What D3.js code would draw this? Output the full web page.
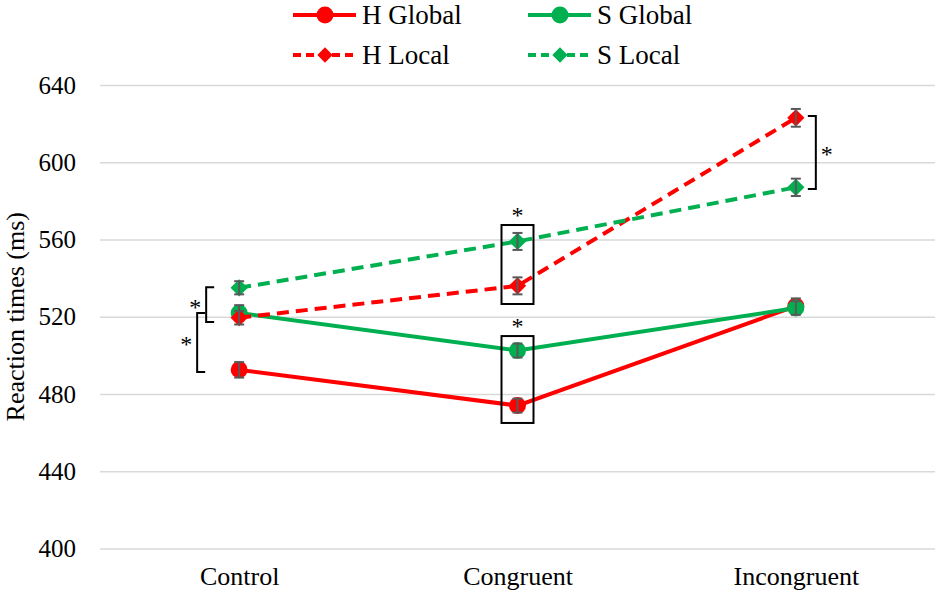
<!DOCTYPE html>
<html lang="en">
<head>
<meta charset="UTF-8">
<title>Reaction times</title>
<script src="https://cdn.jsdelivr.net/npm/d3@7"></script>
<style>
  body { margin: 0; background: #fff; }
  svg text { font-family: "Liberation Serif", "Times New Roman", Times, "DejaVu Serif", serif !important; fill: #000; }
</style>
</head>
<body>
<div id="chart"></div>
<script>
// data
const conditions = ["Control", "Congruent", "Incongruent"];
const yTicks = [400, 440, 480, 520, 560, 600, 640];

const hGlobal = [492.5, 474, 525.5];
const sGlobal = [522, 502.5, 524.5];
const hLocal = [519.5, 536, 623];
const sLocal = [535, 559, 587];

const hGlobalErr = [4, 3.6, 4];
const sGlobalErr = [4, 3.6, 3.5];
const hLocalErr = [3.5, 4.4, 4.6];
const sLocalErr = [3.4, 4.4, 4.5];

const seriesNames = ["H Global", "S Global", "H Local", "S Local"];

// significance marks (category index, from value, to value)
const brackets = [
    {cat: 0, top: 535.3, bottom: 517.3, side: "left", offset: 33},
    {cat: 0, top: 522, bottom: 491.4, side: "left", offset: 42},
    {cat: 2, top: 624, bottom: 586.2, side: "right", offset: 20}
];
const boxes = [
    {cat: 1, top: 567.5, bottom: 526.6},
    {cat: 1, top: 510, bottom: 465}
];

const red = "#FF0000", green = "#00B050";

const series = [
    {name: seriesNames[0], values: hGlobal, err: hGlobalErr, color: red, dash: null, shape: "circle"},
    {name: seriesNames[1], values: sGlobal, err: sGlobalErr, color: green, dash: null, shape: "circle"},
    {name: seriesNames[2], values: hLocal, err: hLocalErr, color: red, dash: "12,7", shape: "diamond"},
    {name: seriesNames[3], values: sLocal, err: sLocalErr, color: green, dash: "12,7", shape: "diamond"}
];

const W = 939, H = 599;
const plot = {left: 100, right: 935, top: 85, bottom: 548.5};

const svg = d3.select("#chart").append("svg")
    .attr("width", W)
    .attr("height", H);

const x = d3.scalePoint()
    .domain(conditions)
    .range([plot.left, plot.right])
    .padding(0.5);

const y = d3.scaleLinear()
    .domain([400, 640])
    .range([plot.bottom, plot.top]);

// gridlines + y labels
const yAxis = svg.append("g")
    .attr("transform", "translate(" + plot.left + ",0)")
    .call(d3.axisLeft(y).tickValues(yTicks).tickSize(-(plot.right - plot.left)).tickPadding(24));
yAxis.attr("font-family", null).attr("font-size", null);
yAxis.select(".domain").remove();
yAxis.selectAll(".tick line").attr("stroke", "#d9d9d9").attr("stroke-width", 1.3);
yAxis.selectAll(".tick text")
    .style("font-size", "25px")
    .attr("fill", "#000");

// x labels
const xAxis = svg.append("g")
    .attr("transform", "translate(0," + plot.bottom + ")")
    .call(d3.axisBottom(x).tickSize(0).tickPadding(18));
xAxis.attr("font-family", null).attr("font-size", null);
xAxis.select(".domain").remove();
xAxis.selectAll(".tick text")
    .style("font-size", "26px")
    .attr("fill", "#000");

// y axis title
svg.append("text")
    .attr("transform", "translate(24," + ((plot.top + plot.bottom) / 2) + ") rotate(-90)")
    .attr("text-anchor", "middle")
    .style("font-size", "26px")
    .text("Reaction times (ms)");

function drawMarker(g, shape, color, cx, cy, big) {
    if (shape == "circle") {
        g.append("circle")
            .attr("cx", cx).attr("cy", cy)
            .attr("r", 8.5)
            .attr("fill", color);
    } else {
        g.append("path")
            .attr("d", d3.symbol().type(d3.symbolDiamond2).size(big ? 190 : 150)())
            .attr("transform", "translate(" + cx + "," + cy + ")")
            .attr("fill", color);
    }
}

const line = d3.line()
    .x((d, i) => x(conditions[i]))
    .y(d => y(d));

series.forEach(function(s) {
    const g = svg.append("g");
    g.append("path")
        .datum(s.values)
        .attr("d", line)
        .attr("fill", "none")
        .attr("stroke", s.color)
        .attr("stroke-width", 4)
        .attr("stroke-dasharray", s.dash);

    s.values.forEach(function(v, i) {
        drawMarker(g, s.shape, s.color, x(conditions[i]), y(v), true);
    });

    // error bars
    s.values.forEach(function(v, i) {
        const cx = x(conditions[i]);
        const e = s.err[i];
        const eb = g.append("g").attr("stroke", "#595959").attr("stroke-width", 2);
        eb.append("line").attr("x1", cx).attr("x2", cx).attr("y1", y(v + e)).attr("y2", y(v - e));
        eb.append("line").attr("x1", cx - 5).attr("x2", cx + 5).attr("y1", y(v + e)).attr("y2", y(v + e));
        eb.append("line").attr("x1", cx - 5).attr("x2", cx + 5).attr("y1", y(v - e)).attr("y2", y(v - e));
    });
});

function star(px, py) {
    svg.append("text")
        .attr("x", px)
        .attr("y", py + 10)
        .attr("text-anchor", "middle")
        .style("font-size", "24px")
        .text("*");
}

// brackets
brackets.forEach(function(b) {
    const cx = x(conditions[b.cat]);
    const dir = b.side == "left" ? -1 : 1;
    const vx = cx + dir * b.offset;
    const tx = vx - dir * 8;
    const y1 = y(b.top), y2 = y(b.bottom);
    svg.append("path")
        .attr("d", "M" + tx + "," + y1 + "H" + vx + "V" + y2 + "H" + tx)
        .attr("fill", "none")
        .attr("stroke", "#000")
        .attr("stroke-width", 2);
    star(vx + dir * 11, (y1 + y2) / 2);
});

// boxes
boxes.forEach(function(b) {
    const cx = x(conditions[b.cat]);
    const y1 = y(b.top), y2 = y(b.bottom);
    svg.append("rect")
        .attr("x", cx - 16)
        .attr("y", y1)
        .attr("width", 32)
        .attr("height", y2 - y1)
        .attr("fill", "none")
        .attr("stroke", "#000")
        .attr("stroke-width", 2);
    star(cx, y1 - 12);
});

// legend
const legendPos = [[293, 15], [528, 15], [293, 55], [528, 55]];
series.forEach(function(s, i) {
    const lx = legendPos[i][0], ly = legendPos[i][1];
    const g = svg.append("g");
    g.append("line")
        .attr("x1", lx).attr("x2", lx + 63)
        .attr("y1", ly).attr("y2", ly)
        .attr("stroke", s.color)
        .attr("stroke-width", 4)
        .attr("stroke-dasharray", s.dash ? "8,5" : null);
    drawMarker(g, s.shape, s.color, lx + 32, ly, false);
    g.append("text")
        .attr("x", lx + 69)
        .attr("y", ly + 9)
        .style("font-size", "27px")
        .text(s.name);
});
</script>
</body>
</html>
